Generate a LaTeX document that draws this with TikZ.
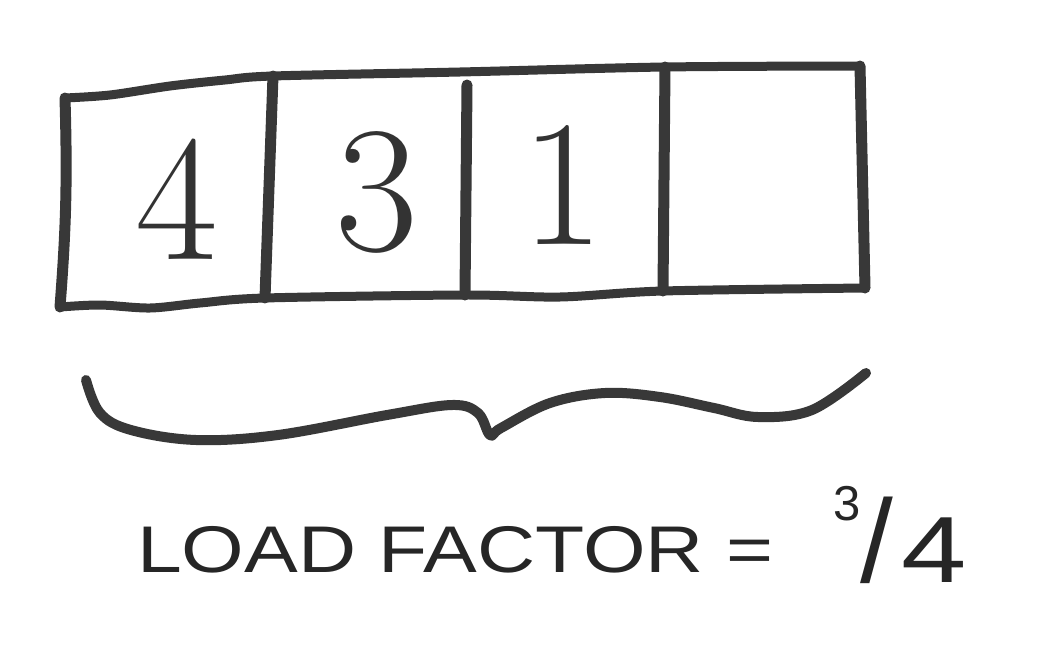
\documentclass[tikz,border=0pt]{standalone}
\usepackage{fontspec}
\usepackage{graphicx}
\newfontfamily\capfont{Liberation Sans}
\usetikzlibrary{positioning}
\tikzset{
    pen/.style={line width=9pt,draw=black!78,line cap=round,line join=round},
    wall/.style={pen,line width=11pt},
    digit/.style={inner sep=0pt,text=black!80,font=\fontsize{180}{180}\selectfont},
    caption/.style={anchor=base west,inner sep=0pt,text=black!85,font=\capfont}
}

\begin{document}
\begin{tikzpicture}[x=1pt,y=-1pt]
		\useasboundingbox (0,0) rectangle (1049,669);
		% corners of the array
		\coordinate (tl) at (65,98);
		\coordinate (bl) at (60,307);
		\coordinate (t1) at (273,76);
		\coordinate (b1) at (265,298);
		\coordinate (t2) at (467,85);
		\coordinate (b2) at (465,295);
		\coordinate (t3) at (665,67);
		\coordinate (b3) at (663,291);
		\coordinate (tr) at (860,66);
		\coordinate (br) at (865,288);
		\draw[pen] plot[smooth,tension=0.5] coordinates {(tl) (110,95) (170,86) (225,80) (t1) (460,72) (t3) (tr)};
		\draw[pen] plot[smooth,tension=0.5] coordinates {(bl) (100,305) (150,308) (200,303) (b1) (b2) (560,297) (b3) (br)};
		\draw[wall] (tl) to[bend left=3] (bl);
		\draw[wall] (t1) -- (b1);
		\draw[wall] (t2) -- (b2);
		\draw[wall] (t3) -- (b3);
		\draw[wall] (tr) -- (br);
		\node[digit] (c4) at (177,199) {4};
		\node[digit] (c3) at (377,192) {3};
		\node[digit] (c1) at (563,185) {1};
		% brace under the array
		\draw[pen,line width=10pt] plot[smooth,tension=0.6] coordinates {(86,380) (100,413) (131,430) (196,440) (278,435) (387,415) (452,405) (478,413) (490,435) (501,428) (550,403) (605,393) (660,397) (714,408) (758,417) (812,410) (866,373)};
		\node[caption,font=\capfont\fontsize{66}{66}\selectfont] (load) at (137,572) {\scalebox{1.22}[1]{LOAD FACTOR =}};
		\node[caption] (frac) at (833,582) {\raisebox{62pt}{\fontsize{49}{49}\selectfont 3}{\fontsize{118}{118}\selectfont /}\kern8pt\scalebox{1.25}[1]{\fontsize{94}{94}\selectfont 4}};
	\end{tikzpicture}
\end{document}
